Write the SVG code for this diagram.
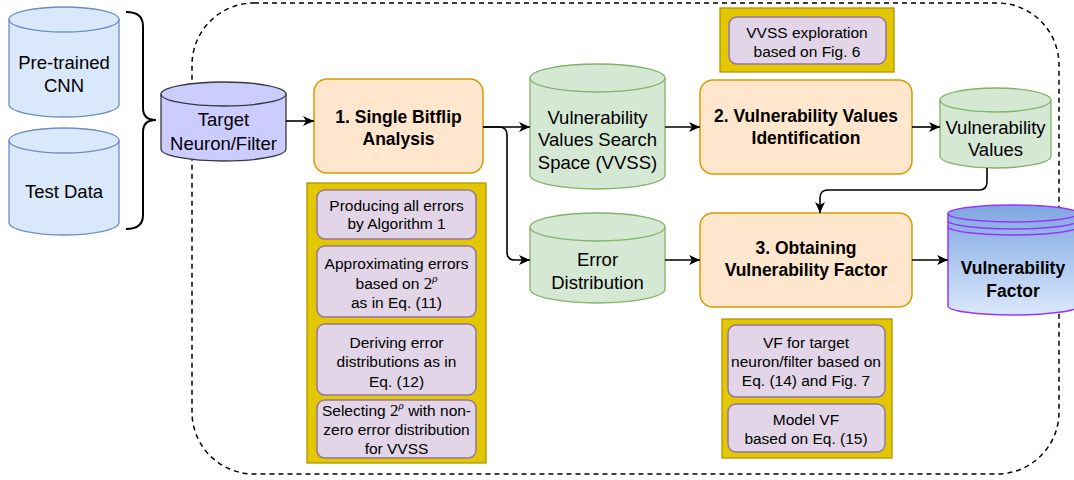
<svg xmlns="http://www.w3.org/2000/svg" width="1074" height="480" viewBox="0 0 1074 480">
<defs>
<marker id="arr" markerUnits="userSpaceOnUse" markerWidth="12" markerHeight="10" refX="11" refY="5" orient="auto">
<path d="M0,0 L11,5 L0,10 L3,5 Z" fill="#000"/>
</marker>
<linearGradient id="vfg" x1="0" y1="0" x2="0" y2="1">
<stop offset="0" stop-color="#7ea6e0"/>
<stop offset="1" stop-color="#dae8fc"/>
</linearGradient>
<style>
text{font-family:"Liberation Sans",Arial,sans-serif;fill:#000;text-anchor:middle}
.t{font-size:18.5px}
.b{font-size:17.5px;font-weight:bold}
.s{font-size:15.5px}
.m{font-family:"Liberation Serif","DejaVu Serif",serif}
.blue{fill:#dae8fc;stroke:#6c8ebf;stroke-width:1.3}
.lav{fill:#ccccff;stroke:#36393d;stroke-width:1.3}
.grn{fill:#d5e8d4;stroke:#82b366;stroke-width:1.3}
.org{fill:#ffe6cc;stroke:#d79b00;stroke-width:1.5}
.yel{fill:#e3c800;stroke:#b09500;stroke-width:1.3}
.pur{fill:#e1d5e7;stroke:#9673a6;stroke-width:1.5}
.con{fill:none;stroke:#000;stroke-width:1.6}
.nf{fill:none}
</style>
</defs>
<rect x="192" y="3" width="867" height="471" rx="62" ry="62" fill="none" stroke="#000" stroke-width="1.5" stroke-dasharray="5 4"/>
<g id="pretrained">
<path class="blue" d="M9,19.5 A55,12.5 0 0 1 119,19.5 L119,104.5 A55,12.5 0 0 1 9,104.5 Z"/>
<path class="blue nf" d="M9,19.5 A55,12.5 0 0 0 119,19.5"/>
<text class="t" x="64" y="68.5">Pre-trained</text>
<text class="t" x="64" y="92">CNN</text>
</g>
<g id="testdata">
<path class="blue" d="M9,140.5 A55,12.5 0 0 1 119,140.5 L119,222.5 A55,12.5 0 0 1 9,222.5 Z"/>
<path class="blue nf" d="M9,140.5 A55,12.5 0 0 0 119,140.5"/>
<text class="t" x="64" y="197.5">Test Data</text>
</g>
<g id="brace">
<path d="M126,12 Q143,12 143,26 L143,108 Q143,120 156,120 Q143,120 143,132 L143,215 Q143,229 126,229" fill="none" stroke="#000" stroke-width="2"/>
</g>
<g id="target">
<path class="lav" d="M161,94 A62.5,12 0 0 1 286,94 L286,149 A62.5,12 0 0 1 161,149 Z"/>
<path class="lav nf" d="M161,94 A62.5,12 0 0 0 286,94"/>
<text class="t" x="223.5" y="126">Target</text>
<text class="t" x="223.5" y="149.5">Neuron/Filter</text>
</g>
<g id="box1">
<rect class="org" x="314" y="79" width="169" height="94" rx="13"/>
<text class="b" x="398.5" y="122.5">1. Single Bitflip</text>
<text class="b" x="398.5" y="144.5">Analysis</text>
</g>
<g id="vvss">
<path class="grn" d="M530,78 A67.5,14 0 0 1 665,78 L665,175 A67.5,14 0 0 1 530,175 Z"/>
<path class="grn nf" d="M530,78 A67.5,14 0 0 0 665,78"/>
<text class="t" x="597.5" y="123.5">Vulnerability</text>
<text class="t" x="597.5" y="146">Values Search</text>
<text class="t" x="597.5" y="168.5">Space (VVSS)</text>
</g>
<g id="errdist">
<path class="grn" d="M530,227 A67.5,14 0 0 1 665,227 L665,289 A67.5,14 0 0 1 530,289 Z"/>
<path class="grn nf" d="M530,227 A67.5,14 0 0 0 665,227"/>
<text class="t" x="597.5" y="265.5">Error</text>
<text class="t" x="597.5" y="288.5">Distribution</text>
</g>
<g id="box2">
<rect class="org" x="700" y="80" width="212" height="94" rx="13"/>
<text class="b" x="806" y="122">2. Vulnerability Values</text>
<text class="b" x="806" y="143.5">Identification</text>
</g>
<g id="vv">
<path class="grn" d="M940,100 A55.5,12 0 0 1 1051,100 L1051,156 A55.5,12 0 0 1 940,156 Z"/>
<path class="grn nf" d="M940,100 A55.5,12 0 0 0 1051,100"/>
<text class="t" x="995.5" y="133.5">Vulnerability</text>
<text class="t" x="995.5" y="155.5">Values</text>
</g>
<g id="box3">
<rect class="org" x="700" y="213" width="212" height="94" rx="13"/>
<text class="b" x="806" y="254">3. Obtaining</text>
<text class="b" x="806" y="276">Vulnerability Factor</text>
</g>
<g id="vf">
<path d="M948,213.5 A65,8.5 0 0 1 1078,213.5 L1078,306 A65,9 0 0 1 948,306 Z" fill="url(#vfg)" stroke="#9933ff" stroke-width="1.5"/>
<path d="M948,213.5 A65,8.5 0 0 0 1078,213.5 M948,220.5 A65,8.5 0 0 0 1078,220.5 M948,226.5 A65,8.5 0 0 0 1078,226.5" fill="none" stroke="#9933ff" stroke-width="1.5"/>
<text class="b" x="1013" y="273.5">Vulnerability</text>
<text class="b" x="1013" y="296.5">Factor</text>
</g>
<g id="vvssexp">
<rect class="yel" x="720" y="8" width="174" height="64"/>
<rect class="pur" x="729" y="17" width="157" height="47" rx="8"/>
<text class="s" x="807" y="37.5">VVSS exploration</text>
<text class="s" x="807" y="56.5">based on Fig. 6</text>
</g>
<g id="steps1">
<rect class="yel" x="307" y="183" width="179" height="280"/>
<rect class="pur" x="317" y="190" width="159" height="49" rx="8"/>
<text class="s" x="396.5" y="210.5">Producing all errors</text>
<text class="s" x="396.5" y="228.5">by Algorithm 1</text>
<rect class="pur" x="317" y="246" width="159" height="71" rx="8"/>
<text class="s" x="396.5" y="268.5">Approximating errors</text>
<text class="s" x="396.5" y="288.5">based on <tspan class="m" font-size="17">2<tspan font-size="11" font-style="italic" dy="-7">ρ</tspan></tspan></text>
<text class="s" x="396.5" y="307.5">as in Eq. (11)</text>
<rect class="pur" x="317" y="324" width="159" height="71" rx="8"/>
<text class="s" x="396.5" y="347.5">Deriving error</text>
<text class="s" x="396.5" y="366.5">distributions as in</text>
<text class="s" x="396.5" y="386.5">Eq. (12)</text>
<rect class="pur" x="317" y="400" width="159" height="58" rx="8"/>
<text class="s" x="396.5" y="415.5">Selecting <tspan class="m" font-size="17">2<tspan font-size="11" font-style="italic" dy="-7">ρ</tspan></tspan><tspan dy="7"> with non-</tspan></text>
<text class="s" x="396.5" y="434.5">zero error distribution</text>
<text class="s" x="396.5" y="453.5">for VVSS</text>
</g>
<g id="steps3">
<rect class="yel" x="722" y="319" width="170" height="139"/>
<rect class="pur" x="728" y="325" width="157" height="72" rx="8"/>
<text class="s" x="806" y="347.5">VF for target</text>
<text class="s" x="806" y="366.5">neuron/filter based on</text>
<text class="s" x="806" y="385.5">Eq. (14) and Fig. 7</text>
<rect class="pur" x="728" y="404" width="157" height="48" rx="8"/>
<text class="s" x="806" y="424.5">Model VF</text>
<text class="s" x="806" y="443.5">based on Eq. (15)</text>
</g>
<g id="connectors">
<path class="con" d="M286,121 L314,121" marker-end="url(#arr)"/>
<path class="con" d="M483,127 L530,127" marker-end="url(#arr)"/>
<path class="con" d="M483,127 L499,127 Q507,127 507,135 L507,252 Q507,260 515,260 L530,260" marker-end="url(#arr)"/>
<path class="con" d="M665,127 L700,127" marker-end="url(#arr)"/>
<path class="con" d="M665,260 L700,260" marker-end="url(#arr)"/>
<path class="con" d="M912,127 L940,127" marker-end="url(#arr)"/>
<path class="con" d="M987,168 L987,182 Q987,190 979,190 L828,190 Q820,190 820,198 L820,213" marker-end="url(#arr)"/>
<path class="con" d="M912,260 L948,260" marker-end="url(#arr)"/>
</g>
</svg>
